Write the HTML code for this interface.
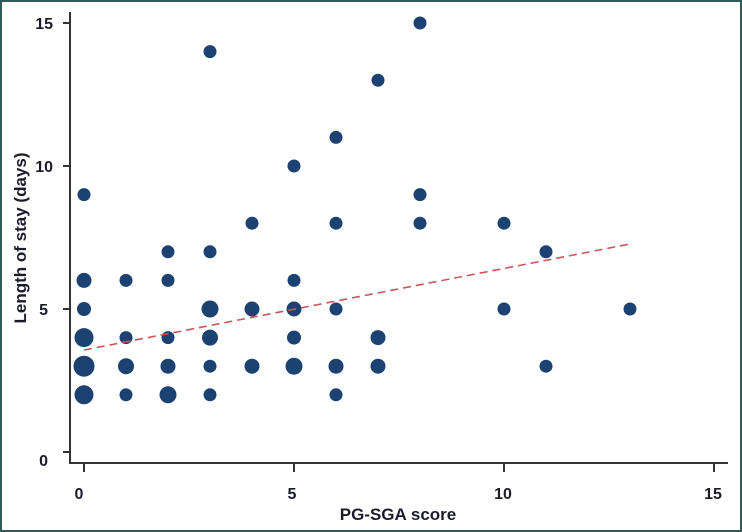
<!DOCTYPE html>
<html><head><style>
body{margin:0;background:#fff}
svg{display:block}
text{font-family:"Liberation Sans",Arial,sans-serif;font-weight:bold;fill:#1b1b2a}
</style></head><body>
<svg width="742" height="532" viewBox="0 0 742 532">
<rect x="1" y="1" width="740" height="530" fill="#fff" stroke="#2f5a55" stroke-width="2"/>
<g stroke="#333" stroke-width="2">
<line x1="70" y1="12" x2="70" y2="464"/>
<line x1="69" y1="463" x2="728" y2="463"/>
<line x1="63" y1="23" x2="70" y2="23"/><line x1="63" y1="166" x2="70" y2="166"/>
<line x1="63" y1="309" x2="70" y2="309"/><line x1="63" y1="452" x2="70" y2="452"/>
<line x1="84" y1="463" x2="84" y2="472"/><line x1="294" y1="463" x2="294" y2="472"/>
<line x1="504" y1="463" x2="504" y2="472"/><line x1="714" y1="463" x2="714" y2="472"/>
</g>
<g font-size="16" text-anchor="end">
<text x="53" y="29">15</text><text x="53" y="172">10</text><text x="48" y="315">5</text><text x="48" y="466">0</text>
</g>
<g font-size="16" text-anchor="middle">
<text x="79" y="499">0</text><text x="292" y="499">5</text><text x="503" y="499">10</text><text x="713" y="499">15</text>
<text x="398" y="520" font-size="17">PG-SGA score</text>
<text transform="translate(26,238) rotate(-90)" font-size="17">Length of stay (days)</text>
</g>
<g fill="#1c4272" id="pts"></g>
<line x1="84" y1="350" x2="630" y2="244" stroke="#c9555e" stroke-width="1.6" stroke-dasharray="8,5"/>
</svg>
<script>
var d=[[0,9,6.5],[0,6,7.5],[0,5,7],[0,4,9.5],[0,3,10.5],[0,2,9.5],
[1,6,6.5],[1,4,6.5],[1,3,8],[1,2,6.5],
[2,7,6.5],[2,6,6.5],[2,4,6.5],[2,3,7.5],[2,2,8.5],
[3,14,6.5],[3,7,6.5],[3,5,8.5],[3,4,8],[3,3,6.5],[3,2,6.5],
[4,8,6.5],[4,5,7.5],[4,3,7.5],
[5,10,6.5],[5,6,6.5],[5,5,7.5],[5,4,7],[5,3,8.5],
[6,11,6.5],[6,8,6.5],[6,5,6.5],[6,3,7.5],[6,2,6.5],
[7,13,6.5],[7,4,7.5],[7,3,7.5],
[8,15,6.5],[8,9,6.5],[8,8,6.5],
[10,8,6.5],[10,5,6.5],[11,7,6.5],[11,3,6.5],[13,5,6.5]];
var g=document.getElementById('pts'),s='';
d.forEach(function(p){s+='<circle cx="'+(84+42*p[0])+'" cy="'+(452-28.6*p[1])+'" r="'+p[2]+'"/>';});
g.innerHTML=s;
</script>
</body></html>
